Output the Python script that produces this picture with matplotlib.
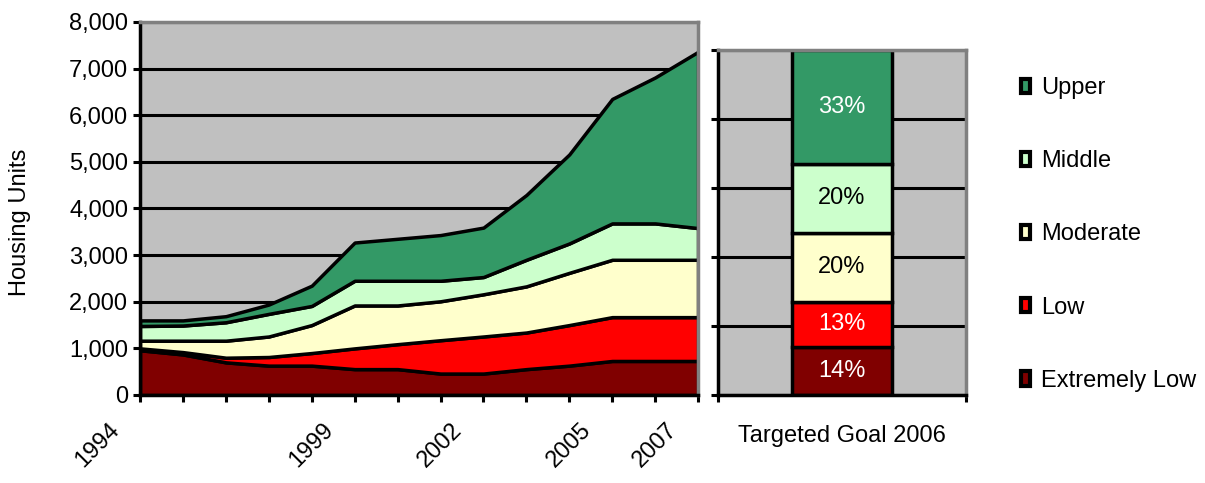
import matplotlib
matplotlib.use("Agg")
import matplotlib.pyplot as plt
from matplotlib.patches import Patch
from matplotlib.ticker import StrMethodFormatter
from matplotlib.transforms import ScaledTranslation

plt.rcParams['font.family'] = ['Liberation Sans', 'DejaVu Sans']

# housing units by income group, 1994-2007
years = [1994, 1995, 1996, 1997, 1998, 1999, 2000, 2001, 2002, 2003, 2004, 2005, 2006, 2007]
extremely_low = [960, 870, 700, 630, 630, 555, 555, 460, 460, 555, 630, 730, 730, 730]
low = [40, 50, 100, 185, 270, 445, 535, 715, 795, 785, 870, 940, 940, 940]
moderate = [165, 245, 365, 440, 600, 920, 830, 835, 905, 990, 1120, 1230, 1230, 1230]
middle = [315, 325, 395, 485, 410, 530, 530, 440, 370, 570, 630, 780, 780, 680]
upper = [120, 110, 130, 200, 435, 820, 900, 980, 1060, 1390, 1910, 2670, 3130, 3780]
label_years = [1994, 1999, 2002, 2005, 2007]

groups = ['Extremely Low', 'Low', 'Moderate', 'Middle', 'Upper']
colors = ['#800000', '#FF0000', '#FFFFCC', '#CCFFCC', '#339966']
text_colors = ['white', 'white', 'black', 'black', 'white']

# targeted goal 2006, percent of units
goal_pct = [14, 13, 20, 20, 33]

bg = '#C0C0C0'
fs = 17

fig = plt.figure(figsize=(12.05, 4.83), dpi=100)
ax = fig.add_axes([0.1162, 0.1822, 0.4631, 0.7723])
ax2 = fig.add_axes([0.5959, 0.1822, 0.2058, 0.7143])

# left: stacked area
ax.set_facecolor(bg)
ax.stackplot(years, extremely_low, low, moderate, middle, upper,
             colors=colors, edgecolor='black', linewidth=2.5)
ax.set_xlim(years[0], years[-1])
ax.set_ylim(0, 8000)
ax.set_yticks(range(0, 8001, 1000))
ax.yaxis.set_major_formatter(StrMethodFormatter('{x:,.0f}'))
ax.set_axisbelow(True)
ax.grid(axis='y', color='black', linewidth=2.2)
ax.set_xticks(years)
ax.set_xticklabels([str(y) if y in label_years else '' for y in years],
                   rotation=45, ha='right', va='top', rotation_mode='anchor')
ax.tick_params(axis='x', length=5, width=2.2, pad=12, labelsize=fs)
ax.tick_params(axis='y', length=5, width=2.2, labelsize=fs)
for lab in ax.get_xticklabels():
    lab.set_transform(lab.get_transform() + ScaledTranslation(-0.32, 0, fig.dpi_scale_trans))
ax.set_ylabel('Housing Units', fontsize=fs)
ax.yaxis.set_label_coords(-0.195, 0.464)
for s in ['left', 'bottom']:
    ax.spines[s].set_linewidth(2.5)
    ax.spines[s].set_color('black')
for s in ['top', 'right']:
    ax.spines[s].set_linewidth(2.5)
    ax.spines[s].set_color('#808080')

# right: targeted goal stacked bar
ax2.set_facecolor(bg)
ax2.set_axisbelow(True)
bottom = 0
for pct, c, tc in zip(goal_pct, colors, text_colors):
    ax2.bar(0, pct, width=0.4, bottom=bottom, color=c, edgecolor='black', linewidth=2.5)
    ax2.text(0, bottom + pct / 2, f'{pct}%', ha='center', va='center', color=tc, fontsize=fs)
    bottom += pct
ax2.set_xlim(-0.5, 0.5)
ax2.set_ylim(0, 100)
ax2.set_yticks(range(0, 101, 20))
ax2.set_yticklabels([])
ax2.set_xticks([-0.5, 0.5])
ax2.set_xticklabels([])
ax2.grid(axis='y', color='black', linewidth=2.2)
ax2.tick_params(length=5, width=2.2)
ax2.set_xlabel('Targeted Goal 2006', fontsize=fs, labelpad=13)
for s in ['left', 'bottom']:
    ax2.spines[s].set_linewidth(2.5)
    ax2.spines[s].set_color('black')
for s in ['top', 'right']:
    ax2.spines[s].set_linewidth(2.5)
    ax2.spines[s].set_color('#808080')

# legend
handles = [Patch(facecolor=c, edgecolor='black', linewidth=3, label=g)
           for g, c in zip(groups, colors)][::-1]
fig.legend(handles=handles, loc='upper left', bbox_to_anchor=(1021 / 1205, 1 - 77 / 483),
           frameon=False, fontsize=fs, handlelength=0.4, handleheight=0.55,
           handletextpad=0.45, labelspacing=2.17, borderpad=0, borderaxespad=0)

fig.savefig('out.png', dpi=100)
